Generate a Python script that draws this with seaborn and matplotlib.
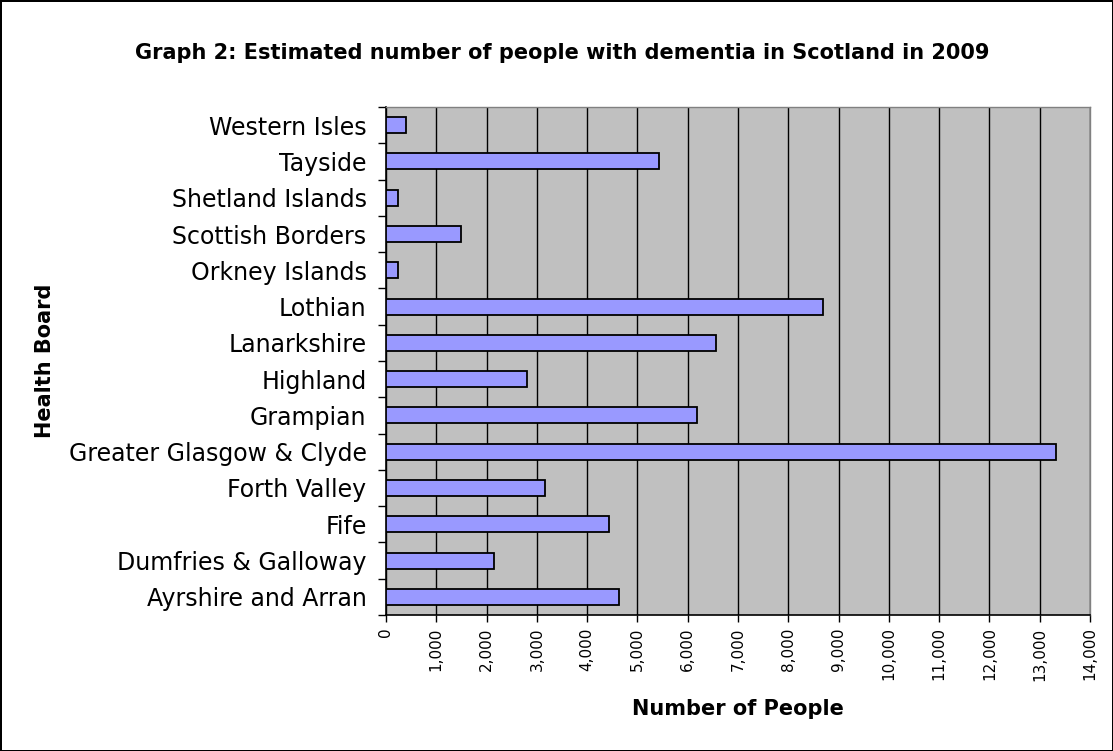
import numpy as np
import pandas as pd
import matplotlib
matplotlib.use("Agg")
import matplotlib.pyplot as plt
from matplotlib.ticker import FixedLocator, FuncFormatter
import seaborn as sns

# health boards, top to bottom as shown
boards = [
    "Western Isles", "Tayside", "Shetland Islands", "Scottish Borders",
    "Orkney Islands", "Lothian", "Lanarkshire", "Highland", "Grampian",
    "Greater Glasgow & Clyde", "Forth Valley", "Fife",
    "Dumfries & Galloway", "Ayrshire and Arran",
]
people = [390, 5430, 240, 1490, 240, 8690, 6565, 2810, 6185,
          13320, 3155, 4440, 2145, 4625]
x_ticks = list(range(0, 14001, 1000))


def main():
    sns.set_style("white")
    plt.rcParams["font.family"] = ["DejaVu Sans"]
    plt.rcParams["text.color"] = "black"
    plt.rcParams["axes.labelcolor"] = "black"
    plt.rcParams["xtick.color"] = "black"
    plt.rcParams["ytick.color"] = "black"

    df = pd.DataFrame({"board": boards, "people": people})

    fig = plt.figure(figsize=(11.13, 7.51), dpi=100)
    fig.patch.set_edgecolor("black")
    fig.patch.set_linewidth(2)
    ax = fig.add_axes([0.3468, 0.1811, 0.6325, 0.6764])
    ax.set_facecolor("#C0C0C0")

    sns.barplot(data=df, x="people", y="board", order=boards, orient="h",
                color="#9999FF", saturation=1, width=0.44,
                edgecolor="black", linewidth=1.3, ax=ax, zorder=3)

    ax.set_xlim(0, 14000)
    ax.set_ylim(len(boards) - 0.5, -0.5)
    ax.xaxis.set_major_locator(FixedLocator(x_ticks))
    ax.xaxis.set_major_formatter(FuncFormatter(lambda v, p: f"{int(v):,}"))
    ax.grid(axis="x", color="black", linewidth=1, zorder=0)
    ax.set_axisbelow(True)
    ax.tick_params(axis="x", labelrotation=90, labelsize=11, length=5,
                   direction="out", bottom=True, width=1, pad=4)

    # Excel style: ticks between the categories
    ax.set_yticks(np.arange(len(boards) + 1) - 0.5, minor=True)
    ax.tick_params(axis="y", which="major", length=0, labelsize=17, pad=14)
    ax.tick_params(axis="y", which="minor", length=6, width=1, left=True)

    for side in ["left", "bottom"]:
        ax.spines[side].set_color("black")
        ax.spines[side].set_linewidth(1.2)
    for side in ["top", "right"]:
        ax.spines[side].set_color("#808080")
        ax.spines[side].set_linewidth(1)

    ax.set_xlabel("Number of People", fontsize=15, fontweight="bold")
    ax.xaxis.set_label_coords(0.5, -0.165)
    ax.set_ylabel("Health Board", fontsize=15, fontweight="bold")
    ax.yaxis.set_label_coords(-0.47, 0.5)
    fig.suptitle("Graph 2: Estimated number of people with dementia in Scotland in 2009",
                 fontsize=15, fontweight="bold", x=0.505, y=0.943)

    fig.savefig("out.png", dpi=100, edgecolor=fig.get_edgecolor())


if __name__ == "__main__":
    main()
